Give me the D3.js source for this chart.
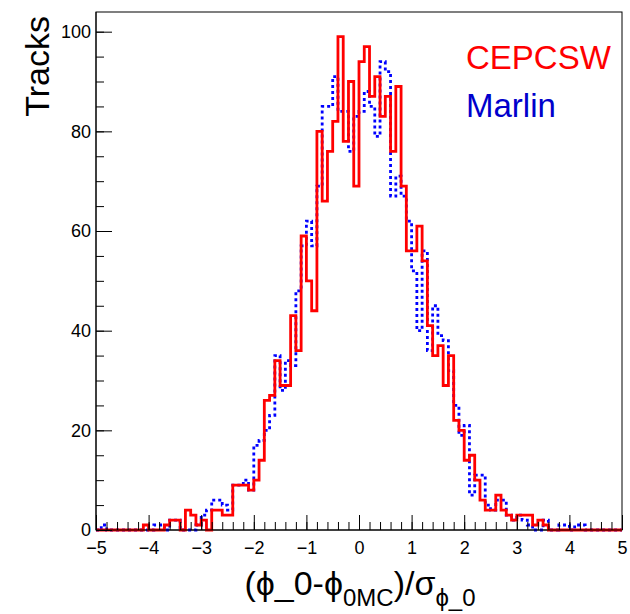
<!DOCTYPE html>
<html>
<head>
<meta charset="utf-8">
<script src="https://cdn.jsdelivr.net/npm/d3@7"></script>
<style>
  html, body { margin: 0; padding: 0; background: #fff; }
  svg { display: block; }
  text { font-family: "Liberation Sans", Arial, Helvetica, sans-serif; }
</style>
</head>
<body>
<svg id="chart" width="630" height="614"></svg>
<script>
// ---- Data (100 bins of width 0.1 from -5 to 5) ----
const binLow = -5;
const binWidth = 0.1;
const cepcsw = [
  0,0,0,0,0,0,0,0,0,1,
  0,0,0,1,2,2,0,4,3,1,
  2,0,4,4,3,3,9,9,9,8,
  10,14,26,27,34,29,29,43,36,59,
  50,44,80,66,76,82,99,78,90,69,
  94,97,87,91,83,87,76,89,69,56,
  56,61,54,41,35,37,29,35,22,20,
  14,15,10,6,4,4,7,4,3,2,
  3,3,3,1,2,1,0,0,0,0,
  0,0,0,0,0,0,0,0,0,0
];
const marlin = [
  0,1,0,0,0,0,0,0,0,0,
  0,1,1,0,2,2,0,0,0,1,
  3,4,6,6,5,4,9,9,10,8,
  17,18,20,23,35,28,34,33,48,57,
  62,57,69,85,85,91,84,84,76,83,
  84,88,85,79,94,92,67,71,67,62,
  52,40,56,36,45,39,38,32,25,19,
  21,7,11,11,5,4,6,6,3,2,
  3,2,1,0,0,2,0,0,1,1,
  0,1,1,0,0,0,0,0,0,0
];
const xTickMajor = [-5,-4,-3,-2,-1,0,1,2,3,4,5];
const yTickMajor = [0,20,40,60,80,100];
const seriesNames = ["CEPCSW", "Marlin"];

// ---- Layout ----
const svg = d3.select("#chart");
const L = 96, R = 622, T = 12, B = 530;
const yMax = 103.95;

const x = d3.scaleLinear().domain([-5, 5]).range([L, R]);
const y = d3.scaleLinear().domain([0, yMax]).range([B, T]);

function stepData(vals) {
  const pts = vals.map((v, i) => ({ e: binLow + i * binWidth, v }));
  pts.push({ e: binLow + vals.length * binWidth, v: vals[vals.length - 1] });
  return pts;
}
const line = d3.line().x(d => x(d.e)).y(d => y(d.v)).curve(d3.curveStepAfter);

// Frame
svg.append("rect")
  .attr("x", L).attr("y", T).attr("width", R - L).attr("height", B - T)
  .attr("fill", "none").attr("stroke", "#000").attr("stroke-width", 1);

// Histograms
svg.append("path").datum(stepData(marlin))
  .attr("d", line).attr("fill", "none")
  .attr("stroke", "#0000ff").attr("stroke-width", 2.8)
  .attr("stroke-dasharray", "3,3");
svg.append("path").datum(stepData(cepcsw))
  .attr("d", line).attr("fill", "none")
  .attr("stroke", "#ff0000").attr("stroke-width", 2.8);

// X axis: major and minor ticks (inward)
const xMinor = d3.range(-5, 5.0001, 0.2).map(v => +v.toFixed(1));
svg.append("g").attr("transform", `translate(0,${B})`)
  .call(d3.axisBottom(x).tickValues(xMinor).tickSize(-8).tickFormat(""))
  .call(g => g.select(".domain").remove());
const gx = svg.append("g").attr("transform", `translate(0,${B})`)
  .call(d3.axisBottom(x).tickValues(xTickMajor).tickSize(-15).tickPadding(11).tickFormat(d3.format("d")))
  .call(g => g.select(".domain").remove());
gx.selectAll("text").attr("font-size", 18).attr("fill", "#000")
  .attr("font-family", "Liberation Sans, Arial, sans-serif");
svg.append("line").attr("x1", L).attr("x2", R).attr("y1", B).attr("y2", B).attr("stroke", "#000");

// Y axis
const yMinor = d3.range(0, 101, 5);
svg.append("g").attr("transform", `translate(${L},0)`)
  .call(d3.axisLeft(y).tickValues(yMinor).tickSize(-8).tickFormat(""))
  .call(g => g.select(".domain").remove());
const gy = svg.append("g").attr("transform", `translate(${L},0)`)
  .call(d3.axisLeft(y).tickValues(yTickMajor).tickSize(-16).tickPadding(5).tickFormat(d3.format("d")))
  .call(g => g.select(".domain").remove());
gy.selectAll("text").attr("font-size", 18).attr("fill", "#000")
  .attr("font-family", "Liberation Sans, Arial, sans-serif");
svg.append("line").attr("x1", L).attr("x2", L).attr("y1", T).attr("y2", B).attr("stroke", "#000");

// Y title
svg.append("text")
  .attr("transform", "translate(49,16) rotate(-90)")
  .attr("text-anchor", "end")
  .attr("font-size", 34)
  .text("Tracks");

// X title
const xt = svg.append("text")
  .attr("x", 360).attr("y", 595)
  .attr("text-anchor", "middle")
  .attr("font-size", 34);
xt.append("tspan").text("(\u03d5_0-\u03d5");
xt.append("tspan").attr("font-size", 24).attr("dy", 11).text("0MC");
xt.append("tspan").attr("dy", -11).text(")/\u03c3");
xt.append("tspan").attr("font-size", 24).attr("dy", 11).text("\u03d5_0");

// Legend texts
svg.append("text").attr("x", 466).attr("y", 69)
  .attr("font-family", "Lato, 'Open Sans', sans-serif")
  .attr("font-size", 33).attr("fill", "#ff0000").text(seriesNames[0]);
svg.append("text").attr("x", 466).attr("y", 117)
  .attr("font-family", "Lato, 'Open Sans', sans-serif")
  .attr("font-size", 33).attr("fill", "#0000cc").text(seriesNames[1]);
</script>
</body>
</html>
